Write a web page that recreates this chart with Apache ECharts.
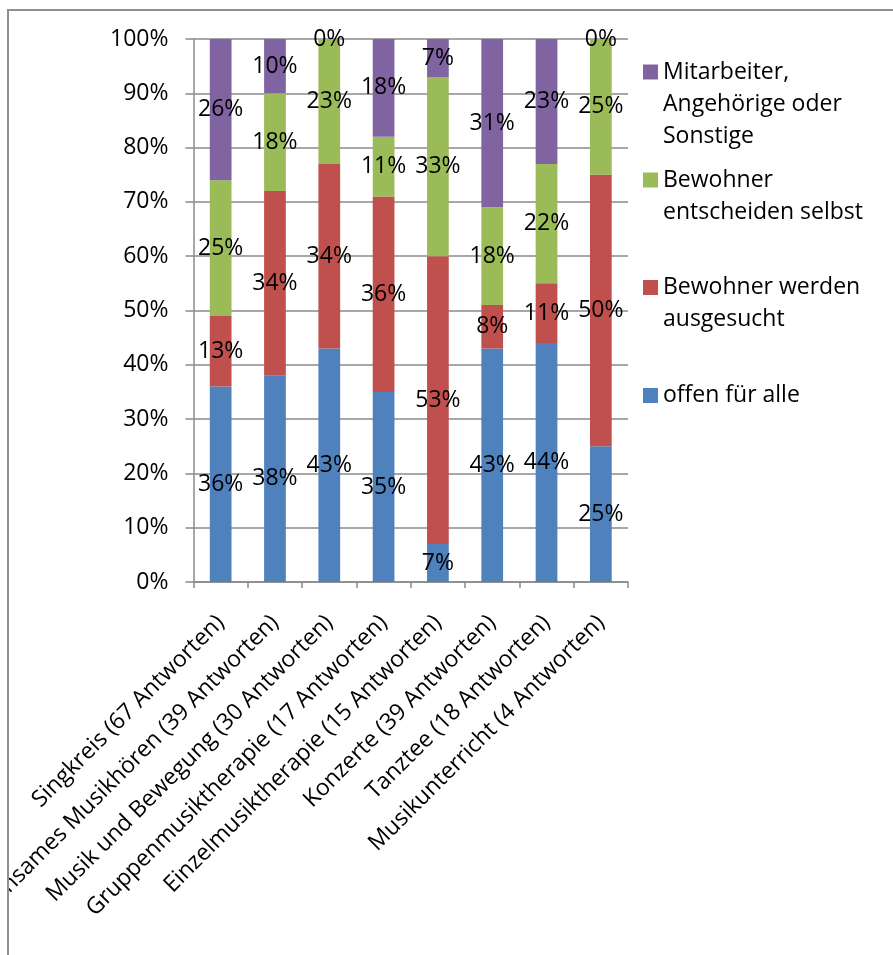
<!DOCTYPE html>
<html>
<head>
<meta charset="utf-8">
<script src="https://cdn.jsdelivr.net/npm/echarts@6/dist/echarts.min.js"></script>
<style>
  html, body { margin: 0; padding: 0; background: #ffffff; }
  #page { position: relative; width: 893px; height: 955px; overflow: hidden; background: #ffffff; }
  #chart { position: absolute; left: 7px; top: 0; width: 886px; height: 955px; }
</style>
</head>
<body>
<div id="page"><div id="chart"></div></div>
<script>
// Angebote und Teilnahme (Anteile je Angebot, in Prozent)
const categories = [
  'Singkreis (67 Antworten)',
  'Gemeinsames Musikhören (39 Antworten)',
  'Musik und Bewegung (30 Antworten)',
  'Gruppenmusiktherapie (17 Antworten)',
  'Einzelmusiktherapie (15 Antworten)',
  'Konzerte (39 Antworten)',
  'Tanztee (18 Antworten)',
  'Musikunterricht (4 Antworten)'
];

const offenFuerAlle      = [36, 38, 43, 35, 7, 43, 44, 25];
const werdenAusgesucht   = [13, 34, 34, 36, 53, 8, 11, 50];
const entscheidenSelbst  = [25, 18, 23, 11, 33, 18, 22, 25];
const mitarbeiterSonst   = [26, 10, 0, 18, 7, 31, 23, 0];

const seriesNames = [
  'offen für alle',
  'Bewohner werden ausgesucht',
  'Bewohner entscheiden selbst',
  'Mitarbeiter, Angehörige oder Sonstige'
];
const legendLines = {
  'Mitarbeiter, Angehörige oder Sonstige': ['Mitarbeiter,', 'Angehörige oder', 'Sonstige'],
  'Bewohner entscheiden selbst': ['Bewohner', 'entscheiden selbst'],
  'Bewohner werden ausgesucht': ['Bewohner werden', 'ausgesucht'],
  'offen für alle': ['offen für alle']
};
const yTicks = { min: 0, max: 100, interval: 10 };

const colors = ['#4F81BD', '#C0504D', '#9BBB59', '#8064A2'];
const FONT = '"Open Sans", "Liberation Sans", sans-serif';
const FS = 23;
const LH = 32;
const GRAY = '#8a8a8a';

// one legend block per entry; empty lead lines keep the icon on the first text line
const legendCenters = {
  'Mitarbeiter, Angehörige oder Sonstige': 72,
  'Bewohner entscheiden selbst': 180,
  'Bewohner werden ausgesucht': 287.5,
  'offen für alle': 395.5
};
const legends = Object.keys(legendCenters).map(function (name) {
  const n = legendLines[name].length;
  const boxH = (2 * n - 1) * LH;
  return {
    data: [name],
    orient: 'vertical',
    left: 636,
    top: legendCenters[name] - boxH / 2,
    padding: 0,
    itemWidth: 15,
    itemHeight: 15,
    icon: 'rect',
    selectedMode: false,
    formatter: function (nm) {
      const lines = legendLines[nm];
      const lead = [];
      for (let i = 1; i < lines.length; i++) lead.push(' ');
      return lead.concat(lines).join('\n');
    },
    textStyle: { fontFamily: FONT, fontSize: FS, color: '#000', lineHeight: LH }
  };
});

const seriesData = [offenFuerAlle, werdenAusgesucht, entscheidenSelbst, mitarbeiterSonst];

const chart = echarts.init(document.getElementById('chart'), null, { renderer: 'canvas' });
chart.setOption({
  animation: false,
  backgroundColor: '#ffffff',
  legend: legends,
  grid: { left: 186.5, right: 265, top: 39, bottom: 373, containLabel: false, outerBoundsMode: 'none' },
  xAxis: {
    type: 'category',
    data: categories,
    boundaryGap: true,
    axisLine: { show: true, lineStyle: { color: GRAY, width: 1.5 } },
    axisTick: { show: true, length: 6, alignWithLabel: false, lineStyle: { color: GRAY, width: 1.5 } },
    axisLabel: {
      interval: 0, rotate: 45, margin: 37,
      fontFamily: FONT, fontSize: FS, color: '#000'
    }
  },
  yAxis: {
    type: 'value',
    min: yTicks.min, max: yTicks.max, interval: yTicks.interval,
    axisLine: { show: true, lineStyle: { color: GRAY, width: 1.5 } },
    axisTick: { show: true, length: 8, lineStyle: { color: GRAY, width: 1.5 } },
    splitLine: { show: true, lineStyle: { color: GRAY, width: 1.5 } },
    axisLabel: {
      margin: 25, formatter: '{value}%',
      fontFamily: FONT, fontSize: FS, color: '#000'
    }
  },
  series: seriesData.map(function (vals, i) {
    return {
      name: seriesNames[i],
      type: 'bar',
      stack: 'total',
      barWidth: '40%',
      data: vals,
      itemStyle: { color: colors[i] },
      label: {
        show: true, position: 'inside', formatter: '{c}%',
        fontFamily: FONT, fontSize: FS, color: '#000'
      },
      emphasis: { disabled: true }
    };
  }),
  graphic: [
    { type: 'line', z: 100, shape: { x1: 1, y1: 10, x2: 886, y2: 10 }, style: { stroke: '#8f8f8f', lineWidth: 2 } },
    { type: 'line', z: 100, shape: { x1: 1, y1: 9, x2: 1, y2: 955 }, style: { stroke: '#8f8f8f', lineWidth: 2 } }
  ]
});
</script>
</body>
</html>
